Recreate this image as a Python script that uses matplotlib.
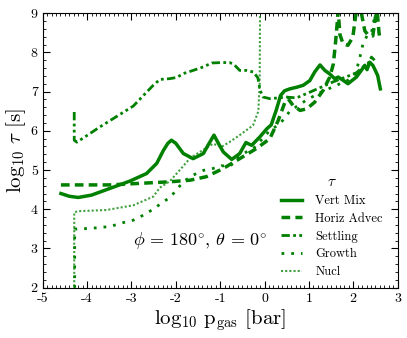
import matplotlib
matplotlib.use("Agg")
import matplotlib.pyplot as plt
from matplotlib.ticker import MultipleLocator

plt.rcParams['font.family'] = 'serif'
plt.rcParams['font.serif'] = ['cmr10']
plt.rcParams['mathtext.fontset'] = 'cm'
plt.rcParams['axes.unicode_minus'] = False

# timescales vs pressure
vert_x = [-4.59, -4.40, -4.20, -3.90, -3.56, -3.03, -2.66, -2.43, -2.28, -2.18, -2.10, -2.00,
          -1.83, -1.61, -1.38, -1.25, -1.14, -1.05, -0.93, -0.74, -0.56, -0.42, -0.29, -0.11,
          0.05, 0.15, 0.27, 0.36, 0.45, 0.57, 0.72, 0.87, 1.02, 1.13, 1.25, 1.36, 1.47, 1.58,
          1.66, 1.77, 1.88, 2.07, 2.18, 2.26, 2.31, 2.37, 2.44, 2.48, 2.55, 2.61]
vert_y = [4.40, 4.33, 4.30, 4.36, 4.50, 4.72, 4.91, 5.17, 5.50, 5.68, 5.76, 5.68,
          5.42, 5.29, 5.42, 5.68, 5.89, 5.70, 5.46, 5.27, 5.42, 5.70, 5.63, 5.84,
          6.05, 6.15, 6.55, 6.90, 7.02, 7.07, 7.11, 7.16, 7.28, 7.50, 7.68, 7.54, 7.45, 7.33,
          7.37, 7.29, 7.20, 7.37, 7.54, 7.67, 7.56, 7.75, 7.67, 7.58, 7.41, 7.07]

adv_x = [-4.59, -3.50, -2.81, -2.13, -1.68, -1.31, -0.93, -0.56, -0.18, 0.00, 0.12, 0.31,
         0.46, 0.53, 0.64, 0.80, 0.95, 1.13, 1.32, 1.47, 1.55, 1.60, 1.66, 1.70, 1.77, 1.88,
         1.99, 2.05, 2.12, 2.20, 2.26, 2.33, 2.44, 2.50, 2.54, 2.58, 2.61]
adv_y = [4.62, 4.62, 4.66, 4.70, 4.74, 4.83, 5.04, 5.29, 5.55, 5.70, 5.80, 6.27,
         6.73, 6.82, 6.65, 6.52, 6.56, 6.73, 7.03, 7.37, 7.70, 8.25, 9.05, 8.45, 8.22, 8.18,
         8.39, 8.90, 9.40, 8.90, 8.55, 8.45, 8.42, 8.90, 9.05, 8.50, 8.30]

set_x = [-4.29, -4.29, -4.23, -3.71, -2.96, -2.51, -2.36, -2.14, -1.98, -1.83, -1.61, -1.38,
         -1.19, -0.97, -0.78, -0.67, -0.56, -0.41, -0.25, -0.15, -0.10, -0.03, 0.12, 0.31,
         0.49, 0.72, 0.95, 1.25, 1.55, 1.85, 2.07, 2.22, 2.33, 2.41, 2.48]
set_y = [6.48, 5.76, 5.71, 6.10, 6.63, 7.16, 7.31, 7.33, 7.36, 7.46, 7.54, 7.63,
         7.73, 7.74, 7.74, 7.67, 7.54, 7.54, 7.50, 7.35, 7.03, 6.86, 6.82, 6.84,
         6.86, 6.84, 6.95, 7.10, 7.25, 7.38, 7.48, 7.63, 7.71, 7.88, 7.80]

grow_x = [-4.28, -4.28, -4.20, -3.93, -3.48, -3.18, -2.96, -2.73, -2.51, -2.28, -2.13, -1.98,
          -1.83, -1.61, -1.38, -1.16, -0.97, -0.80, -0.66, -0.56, -0.41, -0.25, -0.11, 0.12,
          0.35, 0.57, 0.80, 1.00, 1.30, 1.60, 1.90, 2.05, 2.15, 2.22, 2.33, 2.41, 2.48, 2.53]
grow_y = [1.50, 3.49, 3.50, 3.51, 3.56, 3.66, 3.72, 3.85, 4.00, 4.19, 4.30, 4.50,
          4.70, 4.87, 4.99, 5.04, 5.11, 5.09, 5.20, 5.36, 5.46, 5.55, 5.72, 6.01,
          6.18, 6.50, 6.68, 6.82, 7.00, 7.15, 7.30, 7.45, 7.88, 8.22, 8.47, 8.50, 8.90, 9.20]

nucl_x = [-4.29, -4.29, -4.20, -3.56, -2.96, -2.51, -2.36, -2.13, -1.91, -1.68, -1.46, -1.16,
          -0.97, -0.78, -0.56, -0.26, -0.14, -0.11, -0.10]
nucl_y = [1.50, 3.92, 3.95, 3.98, 4.10, 4.32, 4.55, 4.72, 5.00, 5.30, 5.46, 5.67,
          5.59, 5.72, 5.89, 6.14, 6.50, 7.20, 9.50]

c = 'green'
fig = plt.figure(figsize=(4.07, 3.38), dpi=100)
ax = fig.add_axes([0.105, 0.149, 0.872, 0.812])

ax.plot(vert_x, vert_y, color=c, lw=2.5, ls='-', label='Vert Mix')
ax.plot(adv_x, adv_y, color=c, lw=2.5, ls=(0, (2.5, 1.5)), label='Horiz Advec')
ax.plot(set_x, set_y, color=c, lw=2.0, ls=(0, (3, 1.2, 1, 1.2, 1, 1.2)), label='Settling')
ax.plot(grow_x, grow_y, color=c, lw=2.0, ls=(0, (1, 2.5)), label='Growth')
ax.plot(nucl_x, nucl_y, color=c, lw=1.5, ls=(0, (1, 1)), alpha=0.75, label='Nucl')

ax.set_xlim(-5, 3)
ax.set_ylim(2, 9)
ax.xaxis.set_major_locator(MultipleLocator(1))
ax.xaxis.set_minor_locator(MultipleLocator(0.1))
ax.yaxis.set_major_locator(MultipleLocator(1))
ax.yaxis.set_minor_locator(MultipleLocator(0.2))
ax.tick_params(which='both', direction='in', top=True, right=True, labelsize=10)
ax.tick_params(which='major', length=5)
ax.tick_params(which='minor', length=2.5)

ax.set_xlabel(r'$\log_{10}\,\rm p_{gas}$ [bar]', fontsize=15, labelpad=2)
ax.set_ylabel(r'$\log_{10}\,\tau$ [s]', fontsize=15, labelpad=2)

ax.text(-2.96, 3.2, r'$\phi\, =\, 180^{\circ}$, $\theta\, =\, 0^{\circ}$', fontsize=13, va='center')

leg = ax.legend(loc='lower right', bbox_to_anchor=(0.99, -0.006), frameon=False, fontsize=9,
                title=r'$\tau$', title_fontsize=11, handlelength=1.7, labelspacing=0.45,
                handletextpad=1.05)

fig.savefig('out.png', dpi=100)
